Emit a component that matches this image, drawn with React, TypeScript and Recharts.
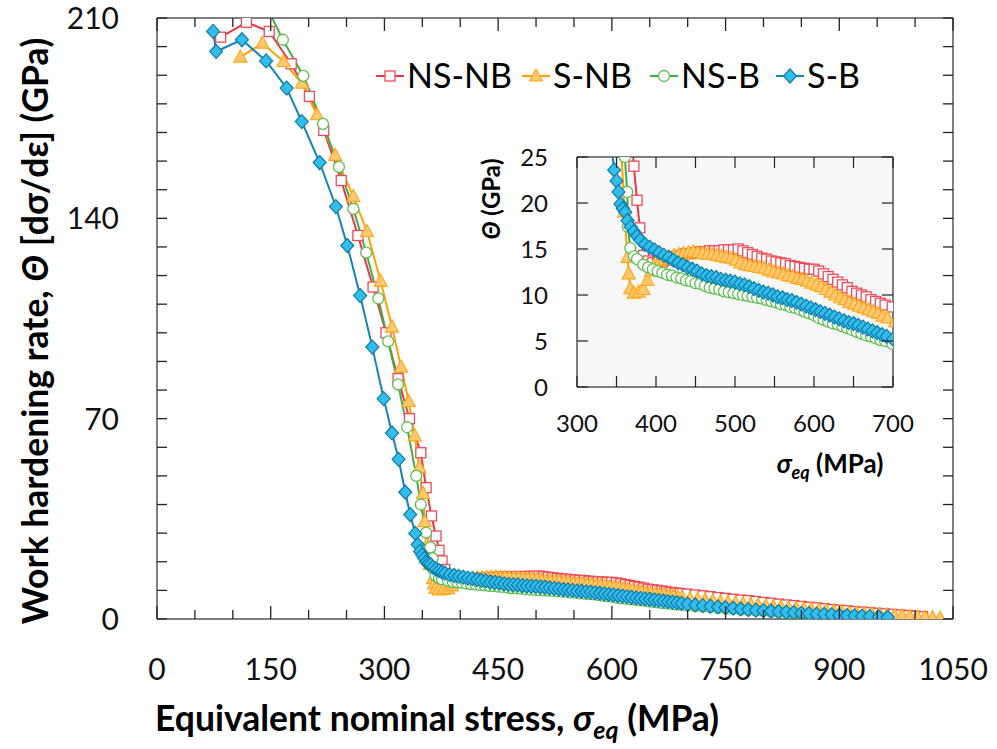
import React from "react";
import { LineChart, Line, XAxis, YAxis, CartesianGrid, Legend } from "recharts";

// [stress MPa, theta GPa]
const nsnb: [number, number][] = [
  [84, 203.3], [118, 208.5], [148, 205.3], [177, 194], [201, 182.6], [220, 170.7], [243, 153.2],
  [265, 134], [285, 116], [302, 100], [318, 84], [333, 70], [348, 58.1], [355, 45.9], [362, 36],
  [368, 29], [372, 24], [376, 20.3], [379.5, 17.3], [384, 14.3], [390, 13.7], [396, 13.5],
  [402, 13.4], [408, 13.6], [414, 13.8], [420, 14.0], [426, 14.2], [432, 14.3], [438, 14.5],
  [444, 14.5], [450, 14.6], [456, 14.7], [462, 14.7], [468, 14.8], [474, 14.8], [480, 14.8],
  [486, 14.9], [492, 14.9], [498, 14.9], [504, 15.0], [510, 14.8], [516, 14.6], [522, 14.4],
  [528, 14.2], [534, 14.0], [540, 13.9], [546, 13.7], [552, 13.6], [558, 13.5], [564, 13.4],
  [570, 13.2], [576, 13.1], [582, 13.0], [588, 12.9], [594, 12.8], [600, 12.8], [606, 12.6],
  [612, 12.3], [618, 12.0], [624, 11.7], [630, 11.4], [636, 11.1], [642, 10.8], [648, 10.4],
  [654, 10.2], [660, 10.0], [666, 9.8], [672, 9.5], [678, 9.3], [684, 9.1], [690, 8.9], [699, 8.7],
  [710, 8.4], [720, 8.1], [730, 7.8], [740, 7.5], [750, 7.2], [760, 6.9], [770, 6.6], [780, 6.4],
  [790, 6.1], [800, 5.8], [810, 5.5], [820, 5.2], [830, 4.9], [840, 4.7], [850, 4.4], [860, 4.1],
  [870, 3.9], [880, 3.6], [890, 3.3], [900, 3.1], [910, 2.9], [920, 2.6], [930, 2.4], [940, 2.2],
  [950, 2.0], [960, 1.8], [970, 1.6], [980, 1.4], [990, 1.2], [1000, 1.0], [1010, 0.8],
];

const snb: [number, number][] = [
  [110, 196.3], [139, 201.2], [167, 194.8], [191, 187.2], [211, 176.2], [235, 162], [259, 147.6],
  [277, 135.4], [295, 118], [310, 102], [322, 88], [332, 76], [340, 64], [346, 53], [351, 43.9],
  [353, 34], [356, 26], [360, 19], [364, 14.1], [365.5, 12.3], [367.5, 10.7], [372, 10.2],
  [378, 10.3], [384, 10.6], [389, 11.6], [394, 12.6], [399, 13.4], [405, 13.7], [411, 13.9],
  [417, 14.1], [423, 14.3], [429, 14.4], [435, 14.5], [441, 14.6], [447, 14.7], [453, 14.6],
  [459, 14.5], [465, 14.4], [471, 14.4], [477, 14.3], [483, 14.2], [489, 14.1], [495, 14.0],
  [501, 13.8], [507, 13.5], [513, 13.3], [519, 13.2], [525, 13.1], [531, 13.0], [537, 12.9],
  [543, 12.7], [549, 12.5], [555, 12.4], [561, 12.3], [567, 12.1], [573, 12.0], [579, 11.8],
  [585, 11.7], [591, 11.5], [597, 11.3], [603, 11.1], [609, 10.9], [615, 10.6], [621, 10.3],
  [627, 10.0], [633, 9.7], [639, 9.5], [645, 9.2], [651, 9.0], [657, 8.8], [663, 8.6], [669, 8.4],
  [675, 8.2], [681, 8.0], [687, 7.7], [693, 7.5], [703, 7.1], [713, 6.8], [723, 6.6], [733, 6.3],
  [743, 6.0], [753, 5.8], [763, 5.6], [773, 5.3], [783, 5.1], [793, 4.8], [803, 4.6], [813, 4.4],
  [823, 4.1], [833, 3.9], [843, 3.7], [853, 3.5], [863, 3.3], [873, 3.1], [883, 2.9], [893, 2.7],
  [903, 2.5], [913, 2.3], [923, 2.1], [933, 1.9], [943, 1.8], [953, 1.6], [963, 1.4], [973, 1.2],
  [983, 1.1], [993, 0.9], [1003, 0.7], [1013, 0.6], [1023, 0.4], [1033, 0.3],
];

const nsb: [number, number][] = [
  [100, 236], [130, 222], [166, 202.4], [193, 189.8], [219, 173], [240, 158], [259, 143.3],
  [276, 128], [292, 112], [305, 97], [318, 82], [330, 67], [342, 50], [348, 40], [355, 30.2],
  [360.5, 25], [363.6, 21.2], [364.5, 17.4], [367.5, 15.1], [372, 14.2], [376, 13.9], [384, 13.3],
  [390, 13.0], [396, 12.8], [402, 12.6], [408, 12.4], [414, 12.2], [420, 12.1], [426, 11.9],
  [432, 11.8], [438, 11.6], [444, 11.5], [450, 11.3], [456, 11.2], [462, 11.0], [468, 10.8],
  [474, 10.7], [480, 10.6], [486, 10.4], [492, 10.3], [498, 10.2], [504, 10.1], [510, 10.0],
  [516, 9.9], [522, 9.8], [528, 9.7], [534, 9.6], [540, 9.45], [546, 9.3], [552, 9.2], [558, 9.0],
  [564, 8.9], [570, 8.7], [576, 8.6], [582, 8.4], [588, 8.2], [594, 8.0], [600, 7.8], [606, 7.5],
  [612, 7.3], [618, 7.1], [624, 6.9], [630, 6.8], [636, 6.6], [642, 6.4], [648, 6.2], [654, 6.0],
  [660, 5.8], [666, 5.6], [672, 5.5], [678, 5.3], [684, 5.1], [690, 5.0], [699, 4.7], [710, 4.5],
  [720, 4.3], [730, 4.1], [740, 3.9], [750, 3.7], [760, 3.5], [770, 3.3], [780, 3.1], [790, 2.9],
  [800, 2.8], [810, 2.6], [820, 2.4], [830, 2.3], [840, 2.1], [850, 1.9], [860, 1.8], [870, 1.6],
  [880, 1.5], [890, 1.4], [900, 1.2], [910, 1.1], [920, 1.0], [930, 0.9], [940, 0.7], [955, 0.5],
];

const sb: [number, number][] = [
  [74, 205.3], [78, 198.3], [112, 202.4], [144, 195], [171, 185.5], [191, 173.8], [214.5, 159.5],
  [236, 144.1], [251, 130.5], [268, 113], [284, 95], [299, 77], [310, 65], [318.7, 55.8],
  [327.5, 44.3], [334, 36.5], [340.7, 29.9], [344, 26], [347, 23.6], [350, 22.4], [352.5, 21.2],
  [355, 19.9], [358, 19.4], [361, 19.0], [364, 18.1], [368, 17.4], [372, 16.9], [376, 16.4],
  [380, 16.0], [386, 15.5], [392, 15.2], [398, 14.9], [404, 14.6], [410, 14.3], [416, 14.1],
  [422, 13.8], [428, 13.5], [434, 13.3], [440, 13.0], [446, 12.8], [452, 12.6], [458, 12.3],
  [464, 12.1], [470, 12.0], [476, 11.9], [482, 11.7], [488, 11.6], [494, 11.5], [500, 11.4],
  [506, 11.2], [512, 11.1], [518, 10.9], [524, 10.7], [530, 10.5], [536, 10.3], [542, 10.2],
  [548, 10.0], [554, 9.8], [560, 9.7], [566, 9.5], [572, 9.4], [578, 9.2], [584, 9.0], [590, 8.8],
  [596, 8.6], [602, 8.4], [608, 8.2], [614, 8.0], [620, 7.8], [626, 7.6], [632, 7.4], [638, 7.2],
  [644, 7.0], [650, 6.9], [656, 6.7], [662, 6.5], [668, 6.3], [674, 6.1], [680, 5.9], [686, 5.7],
  [692, 5.5], [700, 5.2], [710, 4.9], [720, 4.7], [730, 4.5], [740, 4.2], [750, 4.0], [760, 3.8],
  [770, 3.5], [780, 3.3], [790, 3.1], [800, 2.9], [810, 2.8], [820, 2.6], [830, 2.4], [840, 2.2],
  [850, 2.0], [860, 1.9], [870, 1.7], [880, 1.6], [890, 1.5], [900, 1.3], [910, 1.2], [920, 1.1],
  [930, 1.0], [940, 0.9], [952, 0.7], [964, 0.6],
];

const seriesNames = ["NS-NB", "S-NB", "NS-B", "S-B"];

const mainXTicks = [0, 50, 100, 150, 200, 250, 300, 350, 400, 450, 500, 550, 600, 650, 700, 750, 800, 850, 900, 950, 1000, 1050];
const mainXLabels = [0, 150, 300, 450, 600, 750, 900, 1050];
const mainYTicks = [0, 10, 20, 30, 40, 50, 60, 70, 80, 90, 100, 110, 120, 130, 140, 150, 160, 170, 180, 190, 200, 210];
const mainYLabels = [0, 70, 140, 210];
const insetXTicks = [300, 350, 400, 450, 500, 550, 600, 650, 700];
const insetXLabels = [300, 400, 500, 600, 700];
const insetYTicks = [0, 5, 10, 15, 20, 25];

const FONT = "Lato, 'Open Sans', sans-serif";
const AXIS = { stroke: "#555", strokeWidth: 1.5 };
const TICK = "#222";

const looks = [
  { line: "#E5394A", edge: "#EC4A58", fill: "#FFFFFF", shape: "square" },
  { line: "#FFA200", edge: "#FFA81A", fill: "#FFC872", shape: "triangle" },
  { line: "#3EB045", edge: "#5CBF50", fill: "#FFFFFF", shape: "circle" },
  { line: "#1584B2", edge: "#0E7CA8", fill: "#33BDEB", shape: "diamond" },
];

const series = [nsnb, snb, nsb, sb].map((rows, i) => ({
  name: seriesNames[i],
  points: rows.map(([x, y]) => ({ x, y })),
  ...looks[i],
}));

function Marker({ cx, cy, shape, mFill, mEdge }: any) {
  if (cx == null || cy == null || Number.isNaN(cx) || Number.isNaN(cy)) return null;
  if (shape === "square")
    return <rect x={cx - 5} y={cy - 5} width={10} height={10} fill={mFill} stroke={mEdge} strokeWidth={1.3} />;
  if (shape === "triangle")
    return (
      <polygon
        points={`${cx},${cy - 7} ${cx + 6.5},${cy + 5} ${cx - 6.5},${cy + 5}`}
        fill={mFill}
        stroke={mEdge}
        strokeWidth={1.2}
      />
    );
  if (shape === "circle")
    return <circle cx={cx} cy={cy} r={5.5} fill={mFill} stroke={mEdge} strokeWidth={1.3} />;
  return (
    <polygon
      points={`${cx},${cy - 7} ${cx + 6.5},${cy} ${cx},${cy + 7} ${cx - 6.5},${cy}`}
      fill={mFill}
      stroke={mEdge}
      strokeWidth={1.2}
    />
  );
}

const renderLines = () =>
  series.map((s) => (
    <Line
      key={s.name}
      data={s.points}
      dataKey="y"
      type="linear"
      stroke={s.line}
      strokeWidth={2}
      dot={<Marker shape={s.shape} mFill={s.fill} mEdge={s.edge} r={7} />}
      activeDot={false}
      isAnimationActive={false}
    />
  ));

// ticks are drawn inward, labels outside
function MainBottomTick({ x, y, payload }: any) {
  const major = mainXLabels.includes(payload.value);
  return (
    <g>
      <line x1={x} x2={x} y1={y} y2={y - (major ? 13 : 9)} stroke={TICK} strokeWidth={1.3} />
      {major && (
        <text x={x} y={y + 61} textAnchor="middle" fontFamily={FONT} fontSize={30} fill="#111">
          {payload.value}
        </text>
      )}
    </g>
  );
}

function MainTopTick({ x, y, payload }: any) {
  const major = mainXLabels.includes(payload.value);
  return <line x1={x} x2={x} y1={y} y2={y + (major ? 13 : 9)} stroke={TICK} strokeWidth={1.3} />;
}

function MainLeftTick({ x, y, payload }: any) {
  return (
    <g>
      <line x1={x} x2={x + 10} y1={y} y2={y} stroke={TICK} strokeWidth={1.3} />
      {mainYLabels.includes(payload.value) && (
        <text x={x - 38} y={y + 11} textAnchor="end" fontFamily={FONT} fontSize={30} fill="#111">
          {payload.value}
        </text>
      )}
    </g>
  );
}

function MainRightTick({ x, y }: any) {
  return <line x1={x} x2={x - 10} y1={y} y2={y} stroke={TICK} strokeWidth={1.3} />;
}

function InsetBottomTick({ x, y, payload }: any) {
  return (
    <g>
      <line x1={x} x2={x} y1={y} y2={y - 11} stroke={TICK} strokeWidth={1.2} />
      {insetXLabels.includes(payload.value) && (
        <text x={x} y={y + 45} textAnchor="middle" fontFamily={FONT} fontSize={24} fill="#111">
          {payload.value}
        </text>
      )}
    </g>
  );
}

function InsetTopTick({ x, y }: any) {
  return <line x1={x} x2={x} y1={y} y2={y + 11} stroke={TICK} strokeWidth={1.2} />;
}

function InsetLeftTick({ x, y, payload }: any) {
  return (
    <g>
      <line x1={x} x2={x + 11} y1={y} y2={y} stroke={TICK} strokeWidth={1.2} />
      <text x={x - 29} y={y + 8.5} textAnchor="end" fontFamily={FONT} fontSize={24} fill="#111">
        {payload.value}
      </text>
    </g>
  );
}

function InsetRightTick({ x, y }: any) {
  return <line x1={x} x2={x - 11} y1={y} y2={y} stroke={TICK} strokeWidth={1.2} />;
}

function MainXTitle() {
  return (
    <text x={437} y={731} textAnchor="middle" fontFamily={FONT} fontWeight={700} fontSize={35.5} fill="#000">
      {"Equivalent nominal stress, "}
      <tspan fontStyle="italic">σ</tspan>
      <tspan fontStyle="italic" fontSize={25} dy={8}>eq</tspan>
      <tspan dy={-8}>{" (MPa)"}</tspan>
    </text>
  );
}

function MainYTitle() {
  return (
    <text transform="translate(48, 331) rotate(-90)" textAnchor="middle" fontFamily={FONT} fontWeight={700} fontSize={35.5} fill="#000">
      {"Work hardening rate, "}
      <tspan fontStyle="italic">Θ</tspan>
      {" [dσ/dε] (GPa)"}
    </text>
  );
}

function InsetXTitle() {
  return (
    <text x={360} y={333} textAnchor="middle" fontFamily={FONT} fontWeight={700} fontSize={26} fill="#000">
      <tspan fontStyle="italic">σ</tspan>
      <tspan fontStyle="italic" fontSize={18} dy={6}>eq</tspan>
      <tspan dy={-6}>{" (MPa)"}</tspan>
    </text>
  );
}

function InsetYTitle() {
  return (
    <text transform="translate(30, 59) rotate(-90)" textAnchor="middle" fontFamily={FONT} fontWeight={700} fontSize={24} fill="#000">
      <tspan fontStyle="italic">Θ</tspan>
      {" (GPa)"}
    </text>
  );
}

const legendStart = [376, 522, 650, 776];

function LegendBox() {
  const left = 365;
  const top = 50;
  return (
    <svg width={520} height={50}>
      {series.map((s, i) => {
        const x0 = legendStart[i] - left;
        const cy = 76 - top;
        return (
          <g key={s.name}>
            <line x1={x0} x2={x0 + 28} y1={cy} y2={cy} stroke={s.line} strokeWidth={2} />
            <Marker cx={x0 + 14} cy={cy} shape={s.shape} mFill={s.fill} mEdge={s.edge} />
            <text x={x0 + 31} y={88 - top} fontFamily={FONT} fontSize={34} fill="#000">
              {s.name}
            </text>
          </g>
        );
      })}
    </svg>
  );
}

export default function App() {
  return (
    <div style={{ position: "absolute", left: 0, top: 0, width: 997, height: 749, background: "#fff", fontFamily: FONT }}>
      <LineChart width={997} height={749} margin={{ top: 17, right: 43, bottom: 0, left: 0 }}>
        <XAxis
          type="number"
          dataKey="x"
          domain={[0, 1050]}
          ticks={mainXTicks}
          interval={0}
          allowDataOverflow
          height={130}
          tickSize={0}
          tickMargin={0}
          tickLine={false}
          axisLine={AXIS}
          tick={<MainBottomTick />}
          label={<MainXTitle />}
        />
        <XAxis
          xAxisId="t"
          orientation="top"
          type="number"
          dataKey="x"
          domain={[0, 1050]}
          ticks={mainXTicks}
          interval={0}
          allowDataOverflow
          height={1}
          tickSize={0}
          tickMargin={0}
          tickLine={false}
          axisLine={AXIS}
          tick={<MainTopTick />}
        />
        <YAxis
          type="number"
          domain={[0, 210]}
          ticks={mainYTicks}
          interval={0}
          allowDataOverflow
          width={157}
          tickSize={0}
          tickMargin={0}
          tickLine={false}
          axisLine={AXIS}
          tick={<MainLeftTick />}
          label={<MainYTitle />}
        />
        <YAxis
          yAxisId="r"
          orientation="right"
          type="number"
          domain={[0, 210]}
          ticks={mainYTicks}
          interval={0}
          allowDataOverflow
          width={1}
          tickSize={0}
          tickMargin={0}
          tickLine={false}
          axisLine={AXIS}
          tick={<MainRightTick />}
        />
        <Legend
          layout="vertical"
          align="center"
          verticalAlign="middle"
          wrapperStyle={{ top: 50, left: 365, width: 520, height: 50 }}
          content={() => <LegendBox />}
        />
        {renderLines()}
      </LineChart>

      <div style={{ position: "absolute", left: 470, top: 140 }}>
        <LineChart width={460} height={360} margin={{ top: 16, right: 36, bottom: 0, left: 0 }}>
          <CartesianGrid fill="#F7F7F7" stroke="none" horizontal={false} vertical={false} />
          <XAxis
            type="number"
            dataKey="x"
            domain={[300, 700]}
            ticks={insetXTicks}
            interval={0}
            allowDataOverflow
            height={113}
            tickSize={0}
            tickMargin={0}
            tickLine={false}
            axisLine={AXIS}
            tick={<InsetBottomTick />}
            label={<InsetXTitle />}
          />
          <XAxis
            xAxisId="t"
            orientation="top"
            type="number"
            dataKey="x"
            domain={[300, 700]}
            ticks={insetXTicks}
            interval={0}
            allowDataOverflow
            height={1}
            tickSize={0}
            tickMargin={0}
            tickLine={false}
            axisLine={AXIS}
            tick={<InsetTopTick />}
          />
          <YAxis
            type="number"
            domain={[0, 25]}
            ticks={insetYTicks}
            interval={0}
            allowDataOverflow
            width={107}
            tickSize={0}
            tickMargin={0}
            tickLine={false}
            axisLine={AXIS}
            tick={<InsetLeftTick />}
            label={<InsetYTitle />}
          />
          <YAxis
            yAxisId="r"
            orientation="right"
            type="number"
            domain={[0, 25]}
            ticks={insetYTicks}
            interval={0}
            allowDataOverflow
            width={1}
            tickSize={0}
            tickMargin={0}
            tickLine={false}
            axisLine={AXIS}
            tick={<InsetRightTick />}
          />
          {renderLines()}
        </LineChart>
      </div>
    </div>
  );
}
